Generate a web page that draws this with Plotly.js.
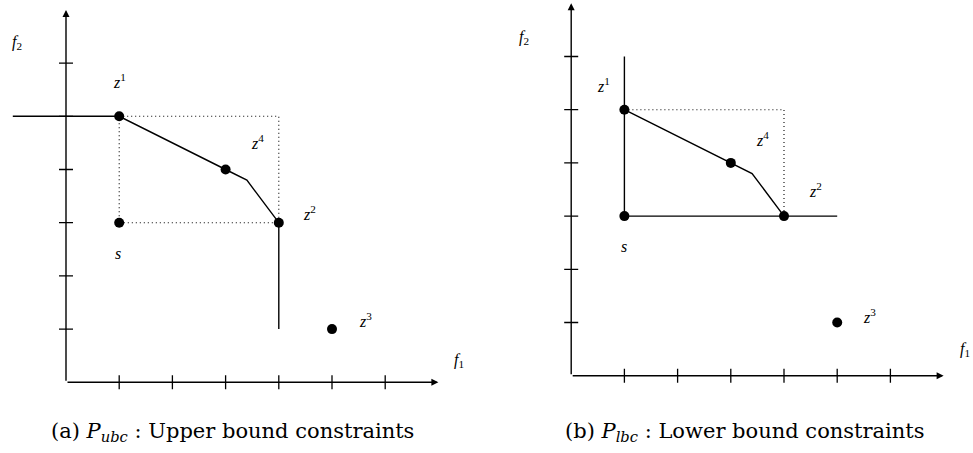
<!DOCTYPE html>
<html>
<head>
<meta charset="utf-8">
<script src="https://cdn.plot.ly/plotly-3.0.1.min.js"></script>
<style>html,body{margin:0;padding:0;background:#fff}#chart{width:973px;height:453px}</style>
</head>
<body>
<div id="chart"></div>
<script>
// ---------- data ----------
var tickVals = [1, 2, 3, 4, 5, 6];
var axisMax = 7;

// Panel (a): upper bound constraints
var ptNamesA = ['z1', 'z4', 'z2', 's', 'z3'];
var ptXA = [1, 3, 4, 1, 5];
var ptYA = [5, 4, 3, 3, 1];
var solidXA = [-1, 1, 3, 3.4, 4, 4];
var solidYA = [5, 5, 4, 3.8, 3, 1];
var dotXA = [1, 4, 4, 1, 1];
var dotYA = [5, 5, 3, 3, 5];

// Panel (b): lower bound constraints
var ptNamesB = ['z1', 'z4', 'z2', 's', 'z3'];
var ptXB = [1, 3, 4, 1, 5];
var ptYB = [5, 4, 3, 3, 1];
var frontXB = [1, 3, 3.4, 4];
var frontYB = [5, 4, 3.8, 3];
var boundXB = [1, 1, 5];
var boundYB = [6, 3, 3];
var dotXB = [1, 4, 4];
var dotYB = [5, 5, 3];

var captionA = '(a) <i>P<sub>ubc</sub></i> : Upper bound constraints';
var captionB = '(b) <i>P<sub>lbc</sub></i> : Lower bound constraints';

// ---------- presentation ----------
var W = 973, H = 453;
var FONT = 'Liberation Serif, DejaVu Serif, serif';
var CAPFONT = 'DejaVu Serif, Liberation Serif, serif';
var labelHtml = {z1: '<i>z</i><sup>1</sup>', z2: '<i>z</i><sup>2</sup>', z3: '<i>z</i><sup>3</sup>', z4: '<i>z</i><sup>4</sup>', s: '<i>s</i>'};
var shiftA = {z1: [0, 35], z4: [32, 27], z2: [31, 10], s: [-1, -31], z3: [33, 9]};
var shiftB = {z1: [-21, 25], z4: [32, 24], z2: [31, 26], s: [0, -30], z3: [32, 7]};

function dom(origin, unit, range, total, vertical) {
  if (!vertical) return [(origin + unit * range[0]) / total, (origin + unit * range[1]) / total];
  return [(total - (origin - unit * range[0])) / total, (total - (origin - unit * range[1])) / total];
}
var unit = 53.2;
var xrA = [-1.2, 7.8], yrA = [-0.6, 7.15];
var xrB = [-1.0, 7.55], yrB = [-0.6, 7.05];
var oA = [66, 382.3], oB = [571.2, 375.7];

function zeros(n) { var a = []; for (var i = 0; i < n; i++) a.push(0); return a; }

function panelTraces(xa, ya) {
  return [
    {x: tickVals, y: zeros(tickVals.length), xaxis: xa, yaxis: ya, mode: 'markers', hoverinfo: 'skip',
     marker: {symbol: 'line-ns', size: 10, color: '#000', line: {width: 1.3, color: '#000'}}},
    {x: zeros(tickVals.length), y: tickVals, xaxis: xa, yaxis: ya, mode: 'markers', hoverinfo: 'skip',
     marker: {symbol: 'line-ew', size: 10, color: '#000', line: {width: 1.3, color: '#000'}}}
  ];
}
function lineTrace(x, y, xa, ya, dash) {
  return {x: x, y: y, xaxis: xa, yaxis: ya, mode: 'lines', hoverinfo: 'skip',
          line: {color: '#000', width: dash ? 1.1 : 1.4, dash: dash || 'solid'}};
}
function ptTrace(x, y, xa, ya) {
  return {x: x, y: y, xaxis: xa, yaxis: ya, mode: 'markers', hoverinfo: 'skip',
          marker: {size: 10, color: '#000'}};
}

var traces = [];
traces = traces.concat(panelTraces('x', 'y'));
traces.push(lineTrace(dotXA, dotYA, 'x', 'y', '1px,3px'));
traces.push(lineTrace(solidXA, solidYA, 'x', 'y'));
traces.push(ptTrace(ptXA, ptYA, 'x', 'y'));
traces = traces.concat(panelTraces('x2', 'y2'));
traces.push(lineTrace(dotXB, dotYB, 'x2', 'y2', '1px,3px'));
traces.push(lineTrace(frontXB, frontYB, 'x2', 'y2'));
traces.push(lineTrace(boundXB, boundYB, 'x2', 'y2'));
traces.push(ptTrace(ptXB, ptYB, 'x2', 'y2'));

var anns = [];
function arrows(xr, yr) {
  anns.push({xref: xr, yref: yr, axref: xr, ayref: yr, x: axisMax, y: 0, ax: 0, ay: 0, text: '',
             showarrow: true, arrowhead: 2, arrowsize: 1, arrowwidth: 1.4, arrowcolor: '#000', standoff: 0, startstandoff: 0});
  anns.push({xref: xr, yref: yr, axref: xr, ayref: yr, x: 0, y: axisMax, ax: 0, ay: 0, text: '',
             showarrow: true, arrowhead: 2, arrowsize: 1, arrowwidth: 1.4, arrowcolor: '#000', standoff: 0, startstandoff: 0});
}
function txt(xr, yr, x, y, t, sh) {
  anns.push({xref: xr, yref: yr, x: x, y: y, text: t, showarrow: false, xanchor: 'center', yanchor: 'middle',
             xshift: sh[0], yshift: sh[1], font: {family: FONT, size: 16, color: '#000'}});
}
arrows('x', 'y');
arrows('x2', 'y2');
ptNamesA.forEach(function (n, i) { txt('x', 'y', ptXA[i], ptYA[i], labelHtml[n], shiftA[n]); });
ptNamesB.forEach(function (n, i) { txt('x2', 'y2', ptXB[i], ptYB[i], labelHtml[n], shiftB[n]); });
txt('x', 'y', axisMax, 0, '<i>f</i><sub>1</sub>', [21, 22]);
txt('x', 'y', 0, axisMax, '<i>f</i><sub>2</sub>', [-49, -33]);
txt('x2', 'y2', axisMax, 0, '<i>f</i><sub>1</sub>', [21, 26]);
txt('x2', 'y2', 0, axisMax, '<i>f</i><sub>2</sub>', [-47, -34]);

anns.push({xref: 'paper', yref: 'paper', x: 232 / W, y: (H - 432) / H, text: captionA, showarrow: false,
           xanchor: 'center', yanchor: 'middle', font: {family: CAPFONT, size: 21, color: '#000'}});
anns.push({xref: 'paper', yref: 'paper', x: 745 / W, y: (H - 432) / H, text: captionB, showarrow: false,
           xanchor: 'center', yanchor: 'middle', font: {family: CAPFONT, size: 21, color: '#000'}});

function hiddenAxis(range, domain, anchor) {
  return {range: range, domain: domain, anchor: anchor, visible: false, showgrid: false, zeroline: false, fixedrange: true};
}

var layout = {
  width: W, height: H, margin: {l: 0, r: 0, t: 0, b: 0},
  paper_bgcolor: '#fff', plot_bgcolor: 'rgba(0,0,0,0)', showlegend: false,
  xaxis: hiddenAxis(xrA, dom(oA[0], unit, xrA, W, false), 'y'),
  yaxis: hiddenAxis(yrA, dom(oA[1], unit, yrA, H, true), 'x'),
  xaxis2: hiddenAxis(xrB, dom(oB[0], unit, xrB, W, false), 'y2'),
  yaxis2: hiddenAxis(yrB, dom(oB[1], unit, yrB, H, true), 'x2'),
  annotations: anns
};
Plotly.newPlot('chart', traces, layout, {staticPlot: true, displayModeBar: false});
</script>
</body>
</html>
